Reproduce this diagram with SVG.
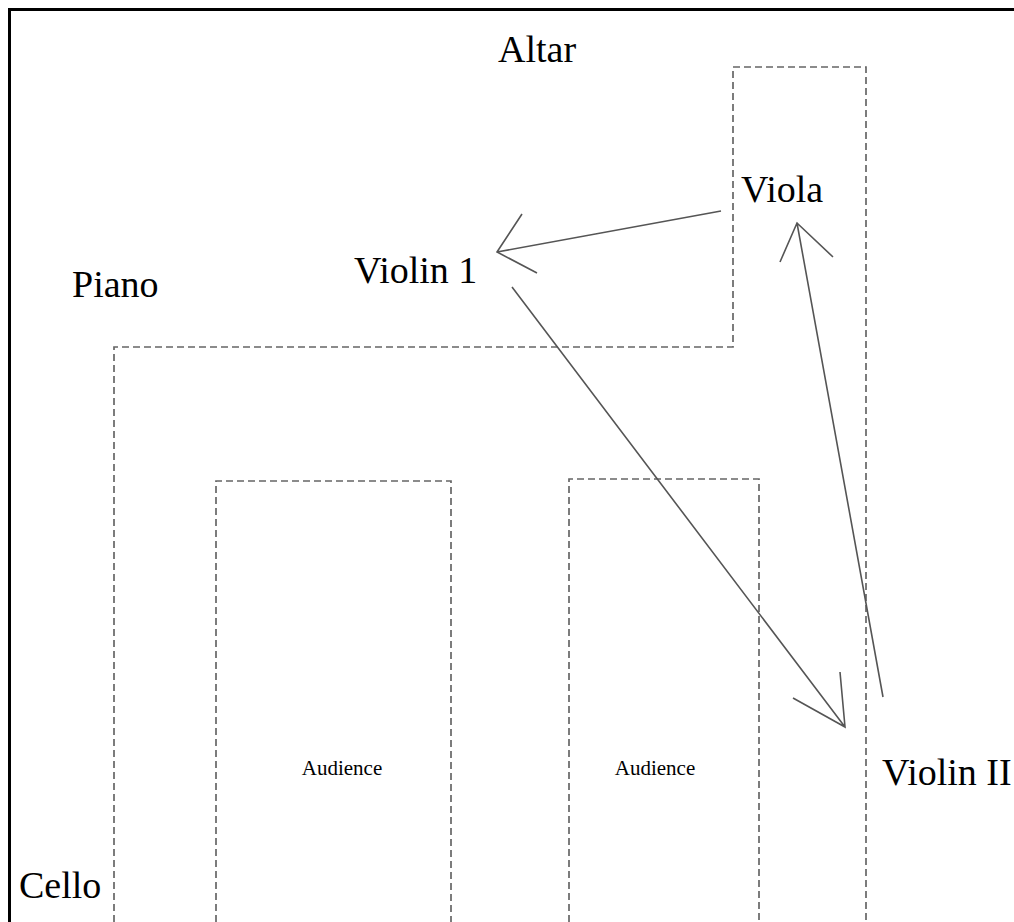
<svg xmlns="http://www.w3.org/2000/svg" width="1014" height="922" viewBox="0 0 1014 922">
<style>
.lbl{font-family:"Liberation Serif","Times New Roman",serif;font-size:38px;fill:#000}
.small{font-family:"Liberation Serif","Times New Roman",serif;font-size:21px;fill:#000}
.dash{fill:none;stroke:#666;stroke-width:1.7;stroke-dasharray:7 4}
.conn{fill:none;stroke:#555;stroke-width:1.6}
</style>
<rect x="0" y="0" width="1014" height="922" fill="#fff"/>
<path d="M9.5,922 V9.5 H1014" fill="none" stroke="#000" stroke-width="3"/>
<g id="stage">
<path class="dash" d="M114,922 V347 H733 V67 H866 V922"/>
</g>
<g id="audience-left">
<path class="dash" d="M216,922 V481 H451 V922"/>
<text class="small" x="342" y="775" text-anchor="middle">Audience</text>
</g>
<g id="audience-right">
<path class="dash" d="M569,922 V479 H759 V922"/>
<text class="small" x="655" y="775" text-anchor="middle">Audience</text>
</g>
<g id="altar"><text class="lbl" x="498" y="62">Altar</text></g>
<g id="viola"><text class="lbl" x="741" y="202">Viola</text></g>
<g id="violin1"><text class="lbl" x="354" y="283">Violin 1</text></g>
<g id="piano"><text class="lbl" x="72" y="297">Piano</text></g>
<g id="violin2"><text class="lbl" x="882" y="785">Violin II</text></g>
<g id="cello"><text class="lbl" x="19" y="898">Cello</text></g>
<g id="connectors">
<path class="conn" d="M721,211 L497,252 M522,214 L497,252 L537,273"/>
<path class="conn" d="M512,287 L845,727 M840,672 L845,727 L793,698"/>
<path class="conn" d="M883,697 L797,223 M780,262 L797,223 L833,257"/>
</g>
</svg>
